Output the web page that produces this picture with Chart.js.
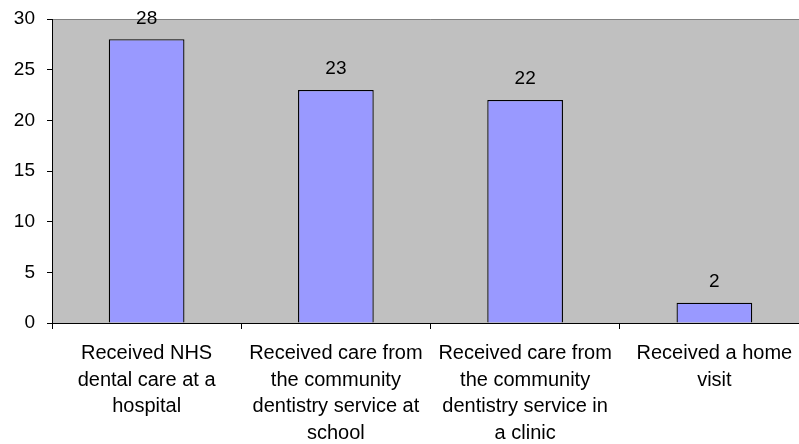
<!DOCTYPE html>
<html>
<head>
<meta charset="utf-8">
<script src="https://cdn.jsdelivr.net/npm/chart.js@4/dist/chart.umd.min.js"></script>
<style>
html,body{margin:0;padding:0;background:#fff;overflow:hidden;}
#wrap{width:812px;height:444px;}
</style>
</head>
<body>
<div id="wrap"><canvas id="c" width="812" height="444"></canvas></div>
<script>
const categories = [
  ["Received NHS", "dental care at a", "hospital"],
  ["Received care from", "the community", "dentistry service at", "school"],
  ["Received care from", "the community", "dentistry service in", "a clinic"],
  ["Received a home", "visit"]
];
const values = [28, 23, 22, 2];
const yTicks = [0, 5, 10, 15, 20, 25, 30];

const FONT = "'Liberation Sans', Arial, sans-serif";

const bgPlugin = {
  id: 'bg',
  beforeDraw(chart) {
    const a = chart.chartArea, ctx = chart.ctx;
    ctx.save();
    ctx.fillStyle = '#C0C0C0';
    ctx.fillRect(a.left, a.top, a.right - a.left, a.bottom - a.top);
    ctx.strokeStyle = '#808080';
    ctx.lineWidth = 1;
    ctx.beginPath();
    ctx.moveTo(a.left, a.top + 0.5);
    ctx.lineTo(a.right, a.top + 0.5);
    ctx.stroke();
    ctx.restore();
  }
};

const labelPlugin = {
  id: 'vals',
  afterDatasetsDraw(chart) {
    const ctx = chart.ctx;
    const meta = chart.getDatasetMeta(0);
    ctx.save();
    ctx.font = '19px ' + FONT;
    ctx.fillStyle = '#000';
    ctx.textAlign = 'center';
    ctx.textBaseline = 'middle';
    meta.data.forEach((bar, i) => {
      ctx.fillText(String(values[i]), bar.x, bar.y - 21);
    });
    ctx.restore();
  }
};

new Chart(document.getElementById('c'), {
  type: 'bar',
  data: {
    labels: categories,
    datasets: [{
      data: values,
      backgroundColor: '#9999FF',
      borderColor: '#000000',
      borderWidth: 1.3,
      categoryPercentage: 1,
      barPercentage: 0.4
    }]
  },
  options: {
    responsive: false,
    animation: false,
    devicePixelRatio: 1,
    layout: { padding: { top: 19, right: 3, left: 0, bottom: 0 } },
    plugins: { legend: { display: false }, tooltip: { enabled: false } },
    scales: {
      x: {
        offset: true,
        grid: { offset: true, drawOnChartArea: false, drawTicks: true, tickLength: 6, color: '#000' },
        border: { color: '#000', width: 1 },
        ticks: {
          color: '#000',
          font: { family: FONT, size: 20, lineHeight: 1.335 },
          padding: 11,
          maxRotation: 0,
          autoSkip: false
        },
        afterFit(scale) { scale.height = 121; scale.paddingLeft = 0; scale.paddingRight = 0; }
      },
      y: {
        min: 0, max: 30,
        afterBuildTicks(scale) { scale.ticks = yTicks.map(v => ({ value: v })); },
        grid: { drawOnChartArea: false, drawTicks: true, tickLength: 5, color: '#000' },
        border: { color: '#000', width: 1 },
        ticks: {
          color: '#000',
          font: { family: FONT, size: 19 },
          padding: 12
        },
        afterFit(scale) { scale.width = 52; scale.paddingTop = 0; scale.paddingBottom = 0; }
      }
    }
  },
  plugins: [bgPlugin, labelPlugin]
});
</script>
</body>
</html>
